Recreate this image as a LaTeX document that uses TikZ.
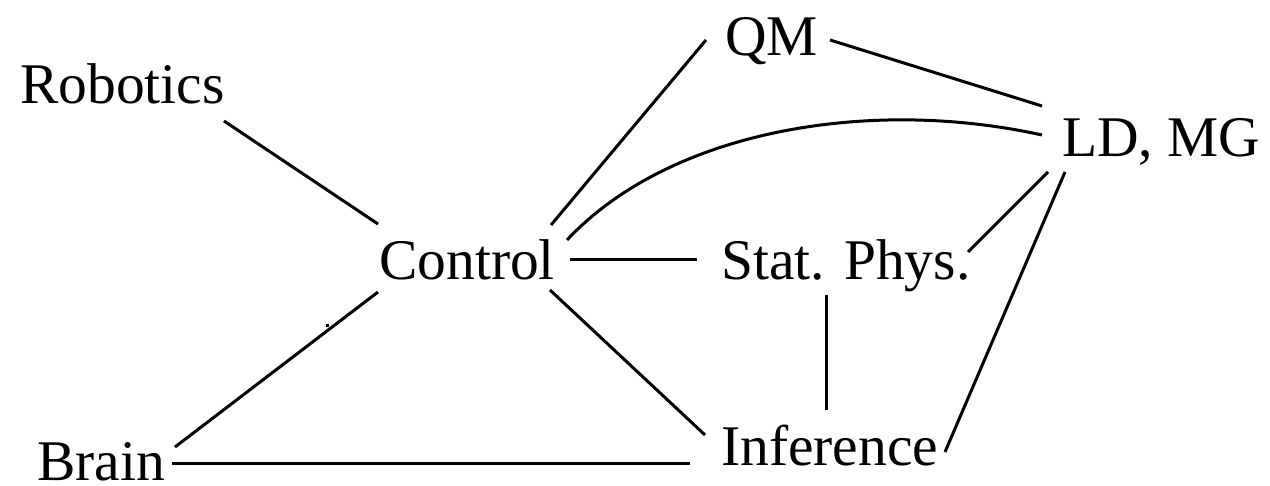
\documentclass[tikz,border=0pt]{standalone}
\usepackage{fontspec}
\setmainfont{Liberation Serif}
\begin{document}
\begin{tikzpicture}[x=1pt,y=-1pt,
  topic/.style={anchor=base west,inner sep=0pt,font=\fontsize{57.5}{62}\selectfont},
  link/.style={line width=3pt}]
\useasboundingbox (0,0) rectangle (1270,486);

% topics, placed by their baseline start
\node[topic] (rob)   at (20,104)  {Robotics};
\node[topic] (qm)    at (725,56)  {QM};
\node[topic] (ld)    at (1062,157) {LD, MG};
\node[topic] (ctl)   at (379,280) {Control};
\node[topic] (stat)  at (721,280) {Stat. Phys.};
\node[topic] (brain) at (37,480)  {Brain};
\node[topic] (inf)   at (721,465) {Inference};

% links between topics
\draw[link] ([shift={(204,17)}]rob.base west) -- ([shift={(-1,-56)}]ctl.base west);
\draw[link] ([shift={(172,-55)}]ctl.base west) -- ([shift={(-19,-16)}]qm.base west);
\draw[link] ([shift={(105,-16)}]qm.base west) -- ([shift={(-20,-51)}]ld.base west);
\draw[link] ([shift={(188,-40)}]ctl.base west) .. controls (670,130) and (870,97) .. ([shift={(-20,-22)}]ld.base west);
\draw[link] ([shift={(191,-20)}]ctl.base west) -- ([shift={(-24,-20)}]stat.base west);
\draw[link] ([shift={(247,-28)}]stat.base west) -- ([shift={(-14,15)}]ld.base west);
\draw[link] ([shift={(3,15)}]ld.base west) -- ([shift={(224,-13)}]inf.base west);
\draw[link] ([shift={(105,15)}]stat.base west) -- ([shift={(105,-55)}]inf.base west);
\draw[link] ([shift={(171,10)}]ctl.base west) -- ([shift={(-16,-30)}]inf.base west);
\draw[link] ([shift={(-1,12)}]ctl.base west) -- ([shift={(138,-33)}]brain.base west);
\draw[link] ([shift={(135,-17)}]brain.base west) -- ([shift={(-31,-2)}]inf.base west);

% small stray mark beside the Control--Brain link
\fill (325.5,324.5) rectangle (328.5,327.5);
\end{tikzpicture}
\end{document}
